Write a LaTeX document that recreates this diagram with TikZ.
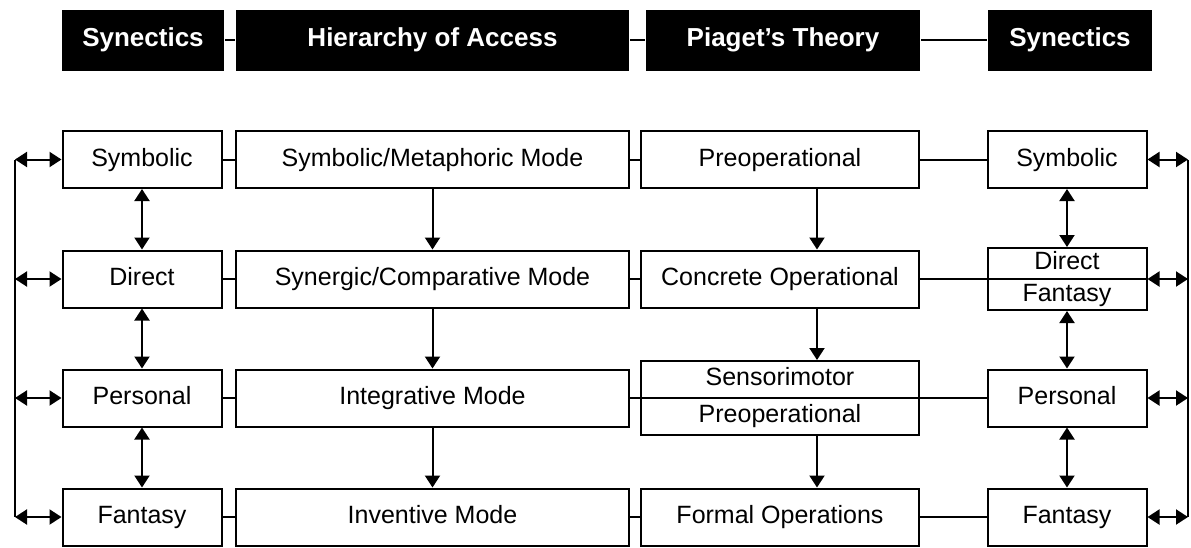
\documentclass[tikz,border=0pt]{standalone}
\usepackage{fontspec}
\setmainfont{Liberation Sans}
\usetikzlibrary{arrows.meta}
\begin{document}
\begin{tikzpicture}[x=1pt, y=-1pt, line width=2pt,
		base/.style={draw, rectangle, inner sep=0pt, minimum height=57pt, font=\fontsize{25}{30}\selectfont},
		box/.style={base, text height=18pt, text depth=5pt},
		twobox/.style={base, align=center},
		head/.style={fill=black, text=white, inner sep=0pt, minimum height=61pt, text height=19pt, text depth=6pt, font=\bfseries\fontsize{26}{30}\selectfont},
		tip/.style={-{Triangle[width=15pt,length=12pt]}},
		both/.style={{Triangle[width=15pt,length=12pt]}-{Triangle[width=15pt,length=12pt]}}]
		\useasboundingbox (0,0) rectangle (1191,547);
		
		\node[head, minimum width=162pt] (hsyn1) at (143,40) {Synectics};
		\node[head, minimum width=393pt] (hhier) at (432.5,40) {Hierarchy of Access};
		\node[head, minimum width=274pt] (hpiag) at (783,40) {Piaget's Theory};
		\node[head, minimum width=164pt] (hsyn2) at (1070,40) {Synectics};
		
		\node[box, minimum width=159pt] (sym1) at (142,159.5) {Symbolic};
		\node[box, minimum width=159pt] (dir1) at (142,279) {Direct};
		\node[box, minimum width=159pt] (per1) at (142,398) {Personal};
		\node[box, minimum width=159pt] (fan1) at (142,517) {Fantasy};
		
		\node[box, minimum width=393pt] (symmode) at (432.5,159.5) {Symbolic/Metaphoric Mode};
		\node[box, minimum width=393pt] (synmode) at (432.5,279) {Synergic/Comparative Mode};
		\node[box, minimum width=393pt] (intmode) at (432.5,398) {Integrative Mode};
		\node[box, minimum width=393pt] (invmode) at (432.5,517) {Inventive Mode};
		
		\node[box, minimum width=278pt] (preop) at (780,159.5) {Preoperational};
		\node[box, minimum width=278pt] (concr) at (780,279) {Concrete Operational};
		\node[twobox, minimum width=278pt, minimum height=74pt, font=\fontsize{25}{37}\selectfont] (senso) at (780,398) {Sensorimotor\\Preoperational};
		\node[box, minimum width=278pt] (formal) at (780,517) {Formal Operations};
		
		\node[box, minimum width=159pt] (sym4) at (1067,159.5) {Symbolic};
		\node[twobox, minimum width=159pt, minimum height=62pt, font=\fontsize{25}{32}\selectfont] (dirfan) at (1067,279) {Direct\\Fantasy};
		\node[box, minimum width=159pt] (per4) at (1067,398) {Personal};
		\node[box, minimum width=159pt] (fan4) at (1067,517) {Fantasy};
		
		\coordinate (l1) at (15,159.5);
		\coordinate (l2) at (15,279);
		\coordinate (l3) at (15,398);
		\coordinate (l4) at (15,517);
		\coordinate (r1) at (1188,159.5);
		\coordinate (r2) at (1188,279);
		\coordinate (r3) at (1188,398);
		\coordinate (r4) at (1188,517);
		
		\foreach \from/\to in {hsyn1/hhier,hhier/hpiag,hpiag/hsyn2,l1/l4,r1/r4}
		\draw (\from) -- (\to);
		
		\foreach \from/\to in {sym1/symmode,dir1/synmode,per1/intmode,fan1/invmode,symmode/preop,synmode/concr,invmode/formal,preop/sym4,formal/fan4,intmode/per4}
		\draw (\from) -- (\to);
		\draw (concr) -- (dirfan.east);
		
		\foreach \from/\to in {l1/sym1,l2/dir1,l3/per1,l4/fan1,r1/sym4,r2/dirfan.east,r3/per4,r4/fan4}
		\draw[both] (\from) -- (\to);
		
		\foreach \from/\to in {sym1/dir1,dir1/per1,per1/fan1,sym4/dirfan,dirfan/per4,per4/fan4}
		\draw[both] (\from.south) -- (\to.north);
		
		\foreach \from/\to in {symmode/synmode,synmode/intmode,intmode/invmode}
		\draw[tip] (\from.south) -- (\to.north);
		
		\foreach \from/\to in {preop/concr,concr/senso,senso/formal}
		\draw[tip] ([xshift=37pt]\from.south) -- ([xshift=37pt]\to.north);
		\end{tikzpicture}
\end{document}
